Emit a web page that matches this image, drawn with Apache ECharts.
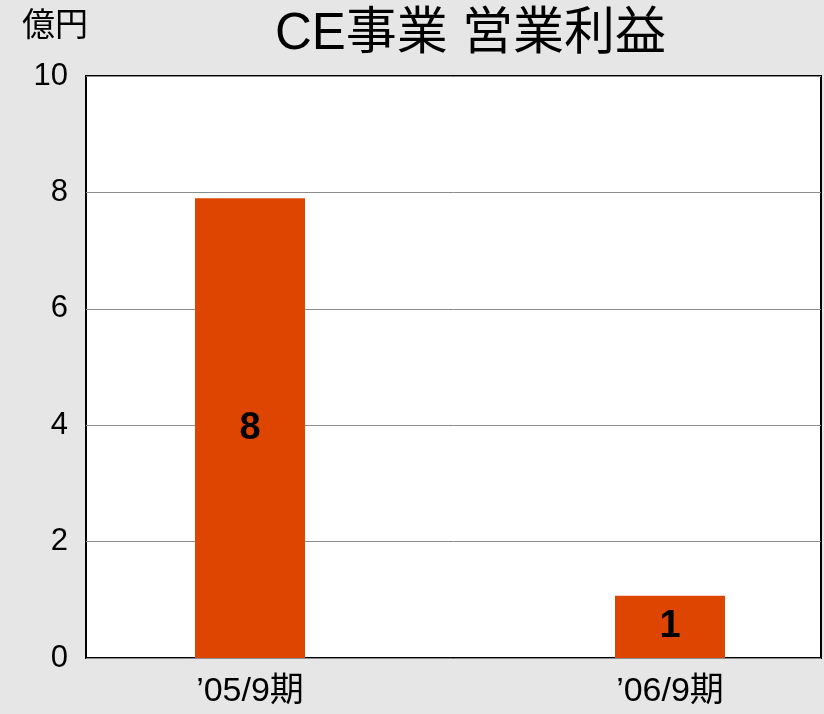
<!DOCTYPE html>
<html>
<head>
<meta charset="utf-8">
<script src="https://cdn.jsdelivr.net/npm/echarts@6/dist/echarts.min.js"></script>
<style>
  html, body { margin: 0; padding: 0; background: #e6e6e6; }
  #chart { width: 824px; height: 714px; }
</style>
</head>
<body>
<div id="chart"></div>
<script>
var categories = ['’05/9期', '’06/9期'];
var profit = [7.9, 1.07];   // 億円
var yTicks = { min: 0, max: 10, step: 2 };

var FONT = '"Liberation Sans", "Noto Sans CJK JP", sans-serif';

var chart = echarts.init(document.getElementById('chart'));
var option = {
  backgroundColor: '#e6e6e6',
  textStyle: { fontFamily: FONT },
  title: [
    {
      text: 'CE事業 営業利益',
      left: 270, top: 4,
      textStyle: { fontSize: 51, fontWeight: 'normal', color: '#000', fontFamily: FONT }
    },
    {
      text: '億円',
      left: 17, top: 5,
      textStyle: { fontSize: 33, fontWeight: 'normal', color: '#000', fontFamily: FONT }
    }
  ],
  grid: [
    // frame + value axis
    { left: 86, right: 3, top: 76, bottom: 56, show: true, backgroundColor: '#fff', borderColor: '#000', borderWidth: 2 },
    // bars (category points placed where the bars sit)
    { left: 250, right: 154, top: 76, bottom: 56 }
  ],
  xAxis: [
    { gridIndex: 0, type: 'category', data: categories, show: false },
    {
      gridIndex: 1, type: 'category', data: categories, boundaryGap: false,
      axisLine: { show: false }, axisTick: { show: false },
      axisLabel: { interval: 0, fontSize: 34, color: '#000', margin: 17, fontFamily: FONT }
    }
  ],
  yAxis: [
    {
      gridIndex: 0, type: 'value', min: yTicks.min, max: yTicks.max, interval: yTicks.step,
      axisLine: { show: false }, axisTick: { show: false },
      axisLabel: { fontSize: 31, color: '#000', margin: 18, fontFamily: FONT },
      splitLine: { lineStyle: { color: '#8c8c8c', width: 1 } }
    },
    { gridIndex: 1, type: 'value', min: yTicks.min, max: yTicks.max, show: false }
  ],
  series: [{
    type: 'bar',
    xAxisIndex: 1, yAxisIndex: 1,
    data: profit,
    barWidth: 110,
    itemStyle: { color: '#dd4500' },
    label: {
      show: true, position: 'inside',
      formatter: function (p) { return Math.round(p.value); },
      fontSize: 38, fontWeight: 'bold', color: '#000', fontFamily: FONT
    }
  }]
};
chart.setOption(option);
</script>
</body>
</html>
